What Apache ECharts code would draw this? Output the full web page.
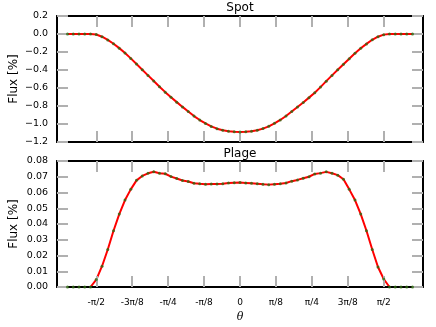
<!DOCTYPE html>
<html>
<head>
<meta charset="utf-8">
<script src="https://cdn.jsdelivr.net/npm/echarts@6/dist/echarts.min.js"></script>
<style>
  html, body { margin: 0; padding: 0; background: #fff; }
  #chart { width: 436px; height: 327px; }
</style>
</head>
<body>
<div id="chart"></div>
<script>
// samples run from -0.6 pi to 0.6 pi, one every pi/50
var sampleIndex = [];
for (var k = -30; k <= 30; k++) sampleIndex.push(k);

var spotFlux = [
    0, 0, 0, 0, 0,
    -0.006, -0.030, -0.066, -0.108, -0.157, -0.211, -0.271, -0.334, -0.397, -0.460,
    -0.523, -0.586, -0.646, -0.703, -0.757, -0.810, -0.862, -0.912, -0.956, -0.994,
    -1.027, -1.052, -1.070, -1.081, -1.087,
    -1.089,
    -1.087, -1.081, -1.069, -1.051, -1.026, -0.993, -0.955, -0.911, -0.862, -0.811,
    -0.762, -0.707, -0.652, -0.590, -0.524, -0.460, -0.397, -0.336, -0.274, -0.214,
    -0.159, -0.110, -0.064, -0.030, -0.007,
    0, 0, 0, 0, 0
];

var plageFlux = [
    0, 0, 0, 0, 0,
    0.0047, 0.0132, 0.0238, 0.0357, 0.0463, 0.0552, 0.0620, 0.0677, 0.0705, 0.0722,
    0.0732, 0.0722, 0.0719, 0.0701, 0.0689, 0.0676, 0.0670, 0.0659, 0.0655, 0.0653,
    0.0654, 0.0654, 0.0656, 0.0660, 0.0662,
    0.0663,
    0.0661, 0.0658, 0.0655, 0.0652, 0.0650, 0.0653, 0.0655, 0.0660, 0.0672, 0.0680,
    0.0690, 0.0700, 0.0718, 0.0723, 0.0731, 0.0722, 0.0710, 0.0684, 0.0620, 0.0552,
    0.0463, 0.0357, 0.0238, 0.0127, 0.0051,
    0, 0, 0, 0, 0
];

var xTickSteps = [-4, -3, -2, -1, 0, 1, 2, 3, 4];   // multiples of pi/8
var xTickLabels = ['-\u03c0/2', '-3\u03c0/8', '-\u03c0/4', '-\u03c0/8', '0', '\u03c0/8', '\u03c0/4', '3\u03c0/8', '\u03c0/2'];

var panelTitles = ['Spot', 'Plage'];

var theta = sampleIndex.map(function (k) { return k * Math.PI / 50; });
var xTicks = xTickSteps.map(function (s) { return s * Math.PI / 8; });

function pairs(vals) {
    return vals.map(function (v, i) { return [theta[i], v]; });
}

var dom = document.getElementById('chart');
var myChart = echarts.init(dom, null, { renderer: 'canvas' });

var font = 'DejaVu Sans';
var tickStyle = { color: '#b0b0b0', width: 2 };
var frame = { show: true, onZero: false, lineStyle: { color: '#000', width: 2 } };

function xAx(grid, pos, labels) {
    return {
        type: 'value', gridIndex: grid, position: pos, min: -2, max: 2, z: 3,
        axisLine: frame,
        axisTick: { show: true, inside: true, length: 11, lineStyle: tickStyle, customValues: xTicks },
        axisLabel: labels ? {
            show: true, customValues: xTicks, margin: 11, fontSize: 9, fontFamily: font, color: '#000',
            formatter: function (v) {
                var i = xTickSteps.indexOf(Math.round(v / (Math.PI / 8)));
                return i >= 0 ? xTickLabels[i] : '';
            }
        } : { show: false },
        splitLine: { show: false },
        name: labels ? '\u03b8' : '',
        nameLocation: 'middle', nameGap: 25, nameMoveOverlap: false,
        nameTextStyle: { fontSize: 11, fontFamily: 'DejaVu Serif', fontStyle: 'italic', color: '#000' }
    };
}

function yAx(grid, pos, min, max, step, digits, labels) {
    return {
        type: 'value', gridIndex: grid, position: pos, min: min, max: max, interval: step, z: 3,
        axisLine: frame,
        axisTick: { show: true, inside: true, length: 11, lineStyle: tickStyle },
        axisLabel: labels ? {
            show: true, margin: 9, fontSize: 9.5, fontFamily: font, color: '#000',
            formatter: function (v) {
                var s = v.toFixed(digits);
                if (Math.abs(v) < 1e-9) s = (0).toFixed(digits);
                return s.replace('-', '\u2212');
            }
        } : { show: false },
        splitLine: { show: false },
        name: labels ? 'Flux [%]' : '',
        nameLocation: 'middle', nameGap: 37, nameMoveOverlap: false,
        nameTextStyle: { fontSize: 12, fontFamily: font, color: '#000' }
    };
}

option = null;
option = {
    animation: false,
    backgroundColor: '#fff',
    title: [
        { text: panelTitles[0], left: 240, top: 2, textAlign: 'center', padding: 0,
          textStyle: { fontSize: 12, fontWeight: 'normal', fontFamily: font, color: '#000' } },
        { text: panelTitles[1], left: 240, top: 147.5, textAlign: 'center', padding: 0,
          textStyle: { fontSize: 12, fontWeight: 'normal', fontFamily: font, color: '#000' } }
    ],
    grid: [
        { left: 57, top: 16, width: 366, height: 126, containLabel: false, outerBoundsMode: 'none' },
        { left: 57, top: 161, width: 366, height: 126, containLabel: false, outerBoundsMode: 'none' }
    ],
    xAxis: [
        xAx(0, 'bottom', false),
        xAx(0, 'top', false),
        xAx(1, 'bottom', true),
        xAx(1, 'top', false)
    ],
    yAxis: [
        yAx(0, 'left', -1.2, 0.2, 0.2, 1, true),
        yAx(0, 'right', -1.2, 0.2, 0.2, 1, false),
        yAx(1, 'left', 0, 0.08, 0.01, 2, true),
        yAx(1, 'right', 0, 0.08, 0.01, 2, false)
    ],
    series: [
        { type: 'line', xAxisIndex: 0, yAxisIndex: 0, data: pairs(spotFlux), showSymbol: false, z: 2,
          lineStyle: { color: '#ff0000', width: 2 }, itemStyle: { color: '#ff0000' } },
        { type: 'scatter', xAxisIndex: 0, yAxisIndex: 0, data: pairs(spotFlux), symbolSize: 3, z: 4,
          itemStyle: { color: '#2f6a12' } },
        { type: 'line', xAxisIndex: 2, yAxisIndex: 2, data: pairs(plageFlux), showSymbol: false, z: 2,
          lineStyle: { color: '#ff0000', width: 2 }, itemStyle: { color: '#ff0000' } },
        { type: 'scatter', xAxisIndex: 2, yAxisIndex: 2, data: pairs(plageFlux), symbolSize: 3, z: 4,
          itemStyle: { color: '#2f6a12' } }
    ]
};

if (option && typeof option === "object") {
    myChart.setOption(option, true);
}
</script>
</body>
</html>
